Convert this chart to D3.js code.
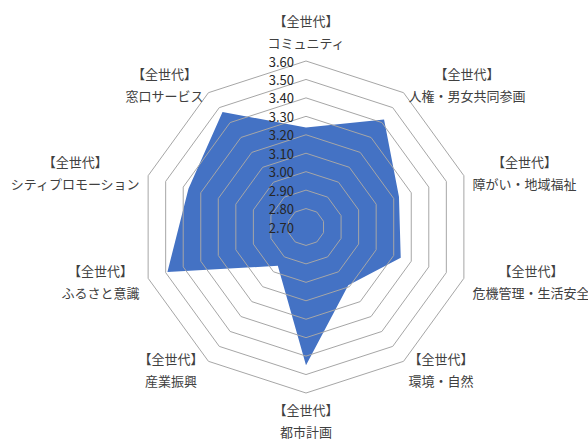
<!DOCTYPE html>
<html>
<head>
<meta charset="utf-8">
<script src="https://cdn.jsdelivr.net/npm/d3@7"></script>
<style>
  html, body { margin: 0; padding: 0; background: #fff; }
  svg { display: block; }
  text { font-family: "Noto Sans CJK JP", "Noto Sans", sans-serif; }
</style>
</head>
<body>
<div id="radar"></div>
<script>
const groupLabel = "【全世代】";
const categories = ["コミュニティ", "人権・男女共同参画", "障がい・地域福祉", "危機管理・生活安全", "環境・自然",
  "都市計画", "産業振興", "ふるさと意識", "シティプロモーション", "窓口サービス"];
const values = [3.24, 3.42, 3.23, 3.24, 3.09, 3.45, 2.96, 3.49, 3.37, 3.47];
const ticks = [2.70, 2.80, 2.90, 3.00, 3.10, 3.20, 3.30, 3.40, 3.50, 3.60];

const W = 588, H = 441;
const cx = 306, cy = 227, R = 166;

const svg = d3.select("#radar").append("svg")
  .attr("width", W).attr("height", H)
  .attr("viewBox", `0 0 ${W} ${H}`);

const r = d3.scaleLinear().domain([ticks[0], ticks[ticks.length - 1]]).range([0, R]);
const angle = d3.scaleLinear().domain([0, categories.length]).range([0, 2 * Math.PI]);

const g = svg.append("g").attr("transform", `translate(${cx},${cy})`);

const radial = d3.lineRadial()
  .angle((d, i) => angle(i))
  .radius(d => r(d))
  .curve(d3.curveLinearClosed);

// series area
g.append("path")
  .datum(values)
  .attr("d", radial)
  .attr("fill", "#4472c4");

// ring grid (drawn over the fill like the original)
g.selectAll("path.ring")
  .data(ticks.slice(1))
  .join("path")
  .attr("class", "ring")
  .attr("d", t => radial(categories.map(() => t)))
  .attr("fill", "none")
  .attr("stroke", "#a6a6a6")
  .attr("stroke-width", 1);

// tick labels
g.selectAll("text.tick")
  .data(ticks)
  .join("text")
  .attr("class", "tick")
  .attr("x", -12)
  .attr("y", d => -r(d))
  .attr("text-anchor", "end")
  .attr("dominant-baseline", "central")
  .attr("font-size", 13)
  .attr("fill", "#262626")
  .text(d => d.toFixed(2));

// category labels, two lines each
const pad = 10, lineGap = 22;
categories.forEach((name, i) => {
  const a = angle(i);
  const sx = Math.sin(a), sy = -Math.cos(a);
  const ax = (R + pad) * sx, ay = (R + pad) * sy;

  const lab = g.append("g").attr("class", "cat");
  const lines = [groupLabel, name];
  const texts = lines.map(s => lab.append("text")
    .attr("text-anchor", "middle")
    .attr("dominant-baseline", "central")
    .attr("font-size", 13)
    .attr("fill", "#404040")
    .text(s));
  const bw = d3.max(texts, t => t.node().getComputedTextLength());

  let bx, by; // block centre
  if (Math.abs(sx) < 0.01) {
    bx = ax;
    by = sy < 0 ? ay - 19.5 : ay + 17.5;
  } else if (sx > 0) {
    bx = ax - 1 + bw / 2;
    by = ay;
  } else {
    bx = ax + 1 - bw / 2;
    by = ay;
  }
  texts.forEach((t, k) => t.attr("x", bx).attr("y", by + (k - 0.5) * lineGap));
});
</script>
</body>
</html>
